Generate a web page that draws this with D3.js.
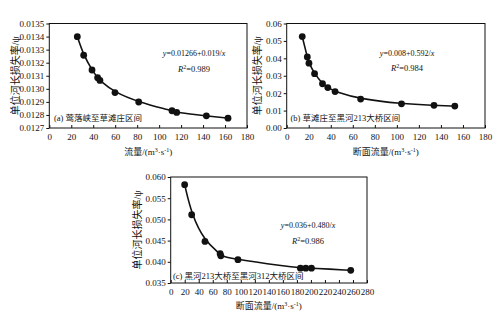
<!DOCTYPE html>
<html><head><meta charset="utf-8">
<script src="https://cdn.jsdelivr.net/npm/d3@7/dist/d3.min.js"></script>
<style>
body{margin:0;background:#fff;}
svg{display:block;}
text{fill:#111;}
</style></head>
<body><svg id="c" width="500" height="326"></svg>
<script>
// Panel (a)
const aFlow = [25.5, 31.3, 38.9, 44.0, 46.1, 59.8, 81.4, 111.7, 116.0, 143.0, 162.7];
const aLoss = [0.013399, 0.013257, 0.013144, 0.013085, 0.013064, 0.012971, 0.012899, 0.012832, 0.012819, 0.012793, 0.012775];
const aYTicks = [0.0127,0.0128,0.0129,0.0130,0.0131,0.0132,0.0133,0.0134,0.0135];
const aXTicks = [0,20,40,60,80,100,120,140,160,180];
// Panel (b)
const bFlow = [14.1, 18.7, 20.2, 25.3, 32.5, 37.3, 43.9, 67.1, 104.2, 133.7, 152.6];
const bLoss = [0.0525, 0.0408, 0.0372, 0.0312, 0.0254, 0.0232, 0.0209, 0.0166, 0.0139, 0.0130, 0.0126];
const bYTicks = [0,0.01,0.02,0.03,0.04,0.05,0.06];
const bXTicks = [0,20,40,60,80,100,120,140,160,180];
// Panel (c)
const cFlow = [19.9, 29.9, 48.9, 70.5, 71.5, 95.9, 185.0, 192.7, 200.8, 256.8];
const cLoss = [0.0582, 0.0511, 0.0448, 0.0419, 0.0414, 0.0405, 0.0385, 0.0385, 0.0385, 0.0380];
const cYTicks = [0.035,0.040,0.045,0.050,0.055,0.060];
const cXTicks = [0,20,40,60,80,100,120,140,160,180,200,220,240,260,280];

const panels = [
  {flow:aFlow, loss:aLoss, yt:aYTicks, xt:aXTicks, fmt:".4f", L:49.3, R:247, T:23.5, B:128,
   xdom:[0,180], ydom:[0.0127,0.0135], xtitle:"流量", eq:"=0.01266+0.019/", r2:"=0.989",
   eqX:194, eqY:56, r2Y:72, lab:"(a) 莺落峡至草滩庄区间", labX:54, labY:121, ytX:15, xtY:155},
  {flow:bFlow, loss:bLoss, yt:bYTicks, xt:bXTicks, fmt:".2f", L:286.7, R:485, T:23.5, B:128,
   xdom:[0,180], ydom:[0,0.06], xtitle:"断面流量", eq:"=0.008+0.592/", r2:"=0.984",
   eqX:407, eqY:56, r2Y:71, lab:"(b) 草滩庄至黑河213大桥区间", labX:290.5, labY:121, ytX:257, xtY:155},
  {flow:cFlow, loss:cLoss, yt:cYTicks, xt:cXTicks, fmt:".3f", L:170.7, R:367, T:177, B:283,
   xdom:[0,280], ydom:[0.035,0.060], xtitle:"断面流量", eq:"=0.036+0.480/", r2:"=0.986",
   eqX:308, eqY:228, r2Y:244, lab:"(c) 黑河213大桥至黑河312大桥区间", labX:173, labY:279, ytX:137, xtY:309}
];

const svg = d3.select("#c");
const serif = "'Liberation Serif','Noto Sans CJK SC',serif";

panels.forEach(p => {
  const x = d3.scaleLinear().domain(p.xdom).range([p.L, p.R]);
  const y = d3.scaleLinear().domain(p.ydom).range([p.B, p.T]);
  const g = svg.append("g");

  // x axis (ticks inward)
  const xa = g.append("g").attr("transform",`translate(0,${p.B})`)
    .call(d3.axisBottom(x).tickValues(p.xt).tickSize(-3).tickPadding(6).tickFormat(d3.format("d")));
  xa.select(".domain").remove();
  xa.selectAll("line").attr("stroke","#111");
  xa.selectAll("text").attr("font-family",serif).attr("font-size","9px").attr("fill","#111");

  // y axis (ticks outward)
  const ya = g.append("g").attr("transform",`translate(${p.L},0)`)
    .call(d3.axisLeft(y).tickValues(p.yt).tickSize(3).tickPadding(2).tickFormat(d3.format(p.fmt)));
  ya.select(".domain").remove();
  ya.selectAll("line").attr("stroke","#111");
  ya.selectAll("text").attr("font-family",serif).attr("font-size","9px").attr("fill","#111");

  // frame
  g.append("rect").attr("x",p.L).attr("y",p.T).attr("width",p.R-p.L).attr("height",p.B-p.T)
    .attr("fill","none").attr("stroke","#111").attr("stroke-width",1);

  // curve
  const pts = p.flow.map((f,i)=>[f,p.loss[i]]);
  g.append("path").datum(pts)
    .attr("d", d3.line().x(d=>x(d[0])).y(d=>y(d[1])).curve(d3.curveBasis))
    .attr("fill","none").attr("stroke","#111").attr("stroke-width",1.6);
  g.selectAll("circle.pt").data(pts).enter().append("circle")
    .attr("cx",d=>x(d[0])).attr("cy",d=>y(d[1])).attr("r",3.4).attr("fill","#111");

  // equation
  const eq = g.append("text").attr("x",p.eqX).attr("y",p.eqY).attr("text-anchor","middle")
    .attr("font-family",serif).attr("font-size","8px");
  eq.append("tspan").attr("font-style","italic").text("y");
  eq.append("tspan").text(p.eq);
  eq.append("tspan").attr("font-style","italic").text("x");
  const r2 = g.append("text").attr("x",p.eqX).attr("y",p.r2Y).attr("text-anchor","middle")
    .attr("font-family",serif).attr("font-size","8.5px");
  r2.append("tspan").attr("font-style","italic").text("R");
  r2.append("tspan").attr("dy","-3.5").attr("font-size","6px").text("2");
  r2.append("tspan").attr("dy","3.5").text(p.r2);

  // panel label
  g.append("text").attr("x",p.labX).attr("y",p.labY).attr("font-family",serif)
    .attr("font-size","8.5px").text(p.lab);

  // x title
  const xt = g.append("text").attr("x",(p.L+p.R)/2).attr("y",p.xtY).attr("text-anchor","middle")
    .attr("font-family",serif).attr("font-size","9px");
  xt.append("tspan").text(p.xtitle+"/(m");
  xt.append("tspan").attr("dy","-3.5").attr("font-size","6px").text("3");
  xt.append("tspan").attr("dy","3.5").text("·s");
  xt.append("tspan").attr("dy","-3.5").attr("font-size","6px").text("-1");
  xt.append("tspan").attr("dy","3.5").text(")");

  // y title
  g.append("text").attr("transform",`translate(${p.ytX},${(p.T+p.B)/2}) rotate(-90)`)
    .attr("text-anchor","middle").attr("dominant-baseline","central")
    .attr("font-family",serif).attr("font-size","10px").text("单位河长损失率/ψ");
});
</script></body></html>
